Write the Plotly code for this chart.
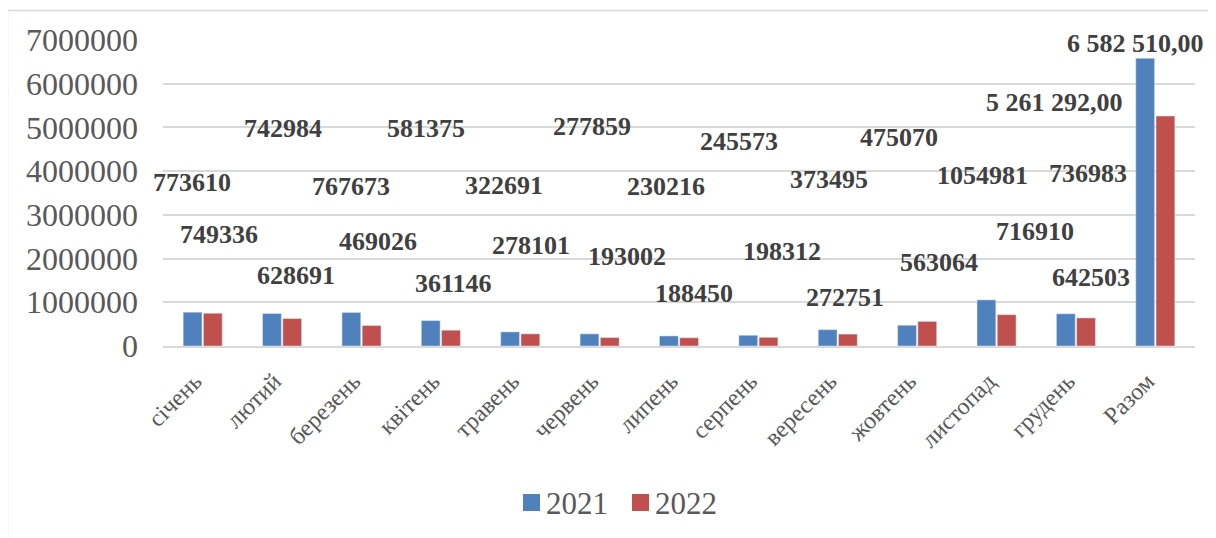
import plotly.graph_objects as go

categories = ["січень", "лютий", "березень", "квітень", "травень", "червень",
              "липень", "серпень", "вересень", "жовтень", "листопад", "грудень", "Разом"]
values_2021 = [773610, 742984, 767673, 581375, 322691, 277859, 230216,
               245573, 373495, 475070, 1054981, 736983, 6582510]
values_2022 = [749336, 628691, 469026, 361146, 278101, 193002, 188450,
               198312, 272751, 563064, 716910, 642503, 5261292]
series_names = ["2021", "2022"]
y_ticks = [0, 1000000, 2000000, 3000000, 4000000, 5000000, 6000000, 7000000]

# manually placed data-label positions (as in the original chart)
label_y_2021 = [3.75e6, 4.97e6, 3.66e6, 4.97e6, 3.68e6, 5.03e6, 3.64e6,
                4.67e6, 3.82e6, 4.78e6, 3.89e6, 3.94e6, 6.91e6]
label_dx_2021 = [-11, 1, -10, -15, -16, -8, -13, -19, -9, -18, -14, 12, -20]
label_y_2022 = [2.54e6, 1.62e6, 2.40e6, 1.44e6, 2.29e6, 2.04e6, 1.21e6,
                2.17e6, 1.12e6, 1.92e6, 2.63e6, 1.56e6, 5.58e6]
label_dx_2022 = [16, 14, 17, 13, 11, 27, 15, 24, 7, 22, 38, 15, -101]

# page offset of the figure inside the browser (body margin)
OFF = 8
W, H = 1216, 538
# target absolute pixel positions of the plot area
PX0, PX1, PY0, PY1 = 163, 1195, 40, 346
L, T = PX0 - OFF, PY0 - OFF
R, B = W - (PX1 - OFF), H - (PY1 - OFF)
pw, ph = PX1 - PX0, PY1 - PY0

BLUE = "#4F81BD"
RED = "#C0504D"
SERIF = "Liberation Serif, Times New Roman, serif"


def fmt(v, is_total):
    if is_total:
        return f"{v:,}".replace(",", " ") + ",00"
    return str(v)


def to_py(abs_y):
    return (PY1 - abs_y) / ph


def to_px(abs_x):
    return (abs_x - PX0) / pw


fig = go.Figure()
fig.add_trace(go.Bar(x=categories, y=values_2021, name=series_names[0], marker_color=BLUE,
                     showlegend=False))
fig.add_trace(go.Bar(x=categories, y=values_2022, name=series_names[1], marker_color=RED,
                     showlegend=False))

annotations = []
n = len(categories)
for vals, ly, dx in ((values_2021, label_y_2021, label_dx_2021),
                     (values_2022, label_y_2022, label_dx_2022)):
    for i in range(n):
        annotations.append(dict(x=categories[i], y=ly[i], xshift=dx[i],
                                text="<b>" + fmt(vals[i], i == n - 1) + "</b>", showarrow=False,
                                font=dict(family=SERIF, size=26, color="#404040"),
                                xanchor="center", yanchor="middle"))

shapes = []
# chart-area border (extends past the visible window)
shapes.append(dict(type="rect", xref="paper", yref="paper",
                   x0=to_px(7.5), x1=to_px(1240),
                   y0=to_py(600), y1=to_py(10.5),
                   line=dict(color="#d9d9d9", width=1.5), fillcolor="rgba(0,0,0,0)",
                   layer="below"))

# legend (drawn manually so the key squares and serif text match)
legend_items = [(series_names[0], BLUE, 523), (series_names[1], RED, 632)]
for name, col, sx in legend_items:
    shapes.append(dict(type="rect", xref="paper", yref="paper",
                       x0=to_px(sx), x1=to_px(sx + 17), y0=to_py(511), y1=to_py(494),
                       line=dict(width=0), fillcolor=col))
    annotations.append(dict(xref="paper", yref="paper", x=to_px(sx + 21), y=to_py(503),
                            xanchor="left", yanchor="middle", showarrow=False, text=name,
                            font=dict(family=SERIF, size=31, color="#595959")))

fig.update_layout(
    width=W, height=H,
    margin=dict(l=L, r=R, t=T, b=B, autoexpand=False),
    paper_bgcolor="white", plot_bgcolor="white",
    barmode="group", bargap=0.49, bargroupgap=0.07,
    font=dict(family=SERIF, color="#595959"),
    xaxis=dict(showgrid=False, tickangle=-45, range=[-0.5, n - 0.5],
               tickfont=dict(family=SERIF, size=24, color="#595959"),
               showline=True, linecolor="#d9d9d9", linewidth=1.5, ticks="",
               ticklabelstandoff=10, ticklabelshift=-8),
    yaxis=dict(range=[0, 7000000], tickvals=y_ticks, tickformat="d",
               showgrid=True, gridcolor="#d9d9d9", gridwidth=1.5,
               zeroline=False, showline=False, ticks="",
               tickfont=dict(family=SERIF, size=32, color="#595959"), ticklabelstandoff=24),
    annotations=annotations,
    shapes=shapes,
    showlegend=False,
)

fig.write_html("out.html")
